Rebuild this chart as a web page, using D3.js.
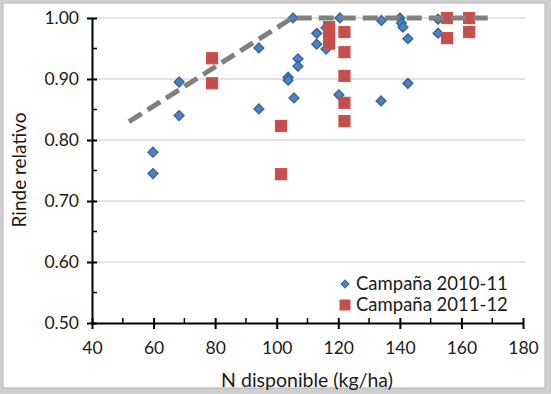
<!DOCTYPE html>
<html>
<head>
<meta charset="utf-8">
<script src="https://cdn.jsdelivr.net/npm/d3@7"></script>
<style>
  body { margin: 0; background: #fff; }
  svg text { font-family: Lato, "Liberation Sans", sans-serif; fill: #1a1a1a; }
</style>
</head>
<body>
<script>
// N disponible (kg/ha) vs rinde relativo, two seasons
const n2010 = [59.8, 59.8, 68.3, 68.3, 94.2, 94.2, 103.7, 103.7, 105.3, 105.6, 106.9, 106.9,
               113, 113, 116, 116, 120.5, 120.2, 133.9, 134, 140, 140.5, 141, 142.6, 142.6, 152.4, 152.4];
const r2010 = [0.745, 0.780, 0.895, 0.840, 0.951, 0.851, 0.903, 0.898, 1.000, 0.869, 0.933, 0.921,
               0.975, 0.957, 0.949, 0.984, 1.000, 0.874, 0.864, 0.996, 1.000, 0.992, 0.985, 0.966, 0.893, 0.998, 0.975];

const n2011 = [79, 79, 101.4, 101.4, 117, 117, 117, 122, 122, 122, 122, 122, 155.3, 155.3, 162.5, 162.5];
const r2011 = [0.934, 0.893, 0.823, 0.744, 0.985, 0.970, 0.958, 0.977, 0.944, 0.905, 0.861, 0.831,
               1.000, 0.967, 1.000, 0.977];

// fitted plateau model (dashed)
const lineN = [52, 105, 170];
const lineR = [0.83, 1.0, 1.0];

const xTicks = [40, 60, 80, 100, 120, 140, 160, 180];
const yTicks = [0.5, 0.6, 0.7, 0.8, 0.9, 1.0];
const seriesNames = ["Campaña 2010-11", "Campaña 2011-12"];

const W = 551, H = 394;
const svg = d3.select("body").append("svg").attr("width", W).attr("height", H);

// frame
svg.append("rect").attr("width", W).attr("height", H).attr("fill", "#cfcfcf");
svg.append("rect").attr("x", 3).attr("y", 3).attr("width", 542).attr("height", 385)
  .attr("fill", "#fff").attr("stroke", "#b5b5b5").attr("stroke-width", 1);

const x = d3.scaleLinear().domain([40, 180]).range([92, 523]);
const y = d3.scaleLinear().domain([0.5, 1.0]).range([323, 18]);

// gridlines
svg.append("g").selectAll("line").data(yTicks.filter(d => d > 0.5)).join("line")
  .attr("x1", x(40)).attr("x2", 525)
  .attr("y1", d => y(d)).attr("y2", d => y(d))
  .attr("stroke", "#d9d9d9").attr("stroke-width", 1.5);

// minor ticks
svg.append("g").selectAll("line").data(d3.range(0.55, 1.0, 0.1)).join("line")
  .attr("x1", x(40)).attr("x2", x(40) + 5)
  .attr("y1", d => y(d)).attr("y2", d => y(d))
  .attr("stroke", "#000").attr("stroke-width", 1.5);
svg.append("g").selectAll("line").data(d3.range(50, 180, 20)).join("line")
  .attr("x1", d => x(d)).attr("x2", d => x(d))
  .attr("y1", y(0.5)).attr("y2", y(0.5) - 5)
  .attr("stroke", "#000").attr("stroke-width", 1.5);

// axes
const yAxis = svg.append("g").attr("transform", `translate(${x(40)},0)`)
  .call(d3.axisLeft(y).tickValues(yTicks).tickFormat(d3.format(".2f")).tickSizeInner(5).tickSizeOuter(0).tickPadding(8));
const xAxis = svg.append("g").attr("transform", `translate(0,${y(0.5)})`)
  .call(d3.axisBottom(x).tickValues(xTicks).tickSizeInner(6).tickSizeOuter(0).tickPadding(13));
[yAxis, xAxis].forEach(g => {
  g.select(".domain").attr("stroke", "#000").attr("stroke-width", 2);
  g.selectAll(".tick text").attr("font-size", 17.5).attr("fill", "#1a1a1a")
    .attr("font-family", "Lato, 'Liberation Sans', sans-serif");
});
yAxis.selectAll(".tick line").attr("x2", 10).attr("transform", "translate(-5,0)")
  .attr("stroke-width", 2);
xAxis.selectAll(".tick line").attr("y1", -5).attr("stroke-width", 2);

// axis titles
svg.append("text").attr("x", 307).attr("y", 387).attr("text-anchor", "middle")
  .attr("font-size", 19.5).text("N disponible (kg/ha)");
svg.append("text").attr("transform", "translate(26,170) rotate(-90)")
  .attr("text-anchor", "middle").attr("font-size", 19).text("Rinde relativo");

// markers
const diamond = d3.symbol().type(d3.symbolDiamond2).size(64);
svg.append("g").selectAll("path").data(d3.range(n2010.length)).join("path")
  .attr("d", diamond)
  .attr("transform", i => `translate(${x(n2010[i])},${y(r2010[i])})`)
  .attr("fill", "#4f81bd").attr("stroke", "#2f5f98").attr("stroke-width", 1.2);

svg.append("g").selectAll("rect").data(d3.range(n2011.length)).join("rect")
  .attr("x", i => x(n2011[i]) - 5.5).attr("y", i => y(r2011[i]) - 5.5)
  .attr("width", 11).attr("height", 11)
  .attr("fill", "#c0504d").attr("stroke", "#dd4a48").attr("stroke-width", 1.2);

// dashed plateau line
svg.append("path")
  .datum(d3.range(lineN.length))
  .attr("d", d3.line().x(i => x(lineN[i])).y(i => y(lineR[i])))
  .attr("fill", "none").attr("stroke", "#808080").attr("stroke-width", 5)
  .attr("stroke-dasharray", "15,7");

// legend
const leg = svg.append("g");
leg.append("path").attr("d", d3.symbol().type(d3.symbolDiamond2).size(45))
  .attr("transform", "translate(345,284)")
  .attr("fill", "#4f81bd").attr("stroke", "#2f5f98");
leg.append("rect").attr("x", 340).attr("y", 300).attr("width", 10).attr("height", 10)
  .attr("fill", "#c0504d").attr("stroke", "#dd4a48");
leg.selectAll("text").data(seriesNames).join("text")
  .attr("x", 356).attr("y", (d, i) => 284 + i * 21).attr("dy", "0.35em")
  .attr("font-size", 18.5).text(d => d);
</script>
</body>
</html>
